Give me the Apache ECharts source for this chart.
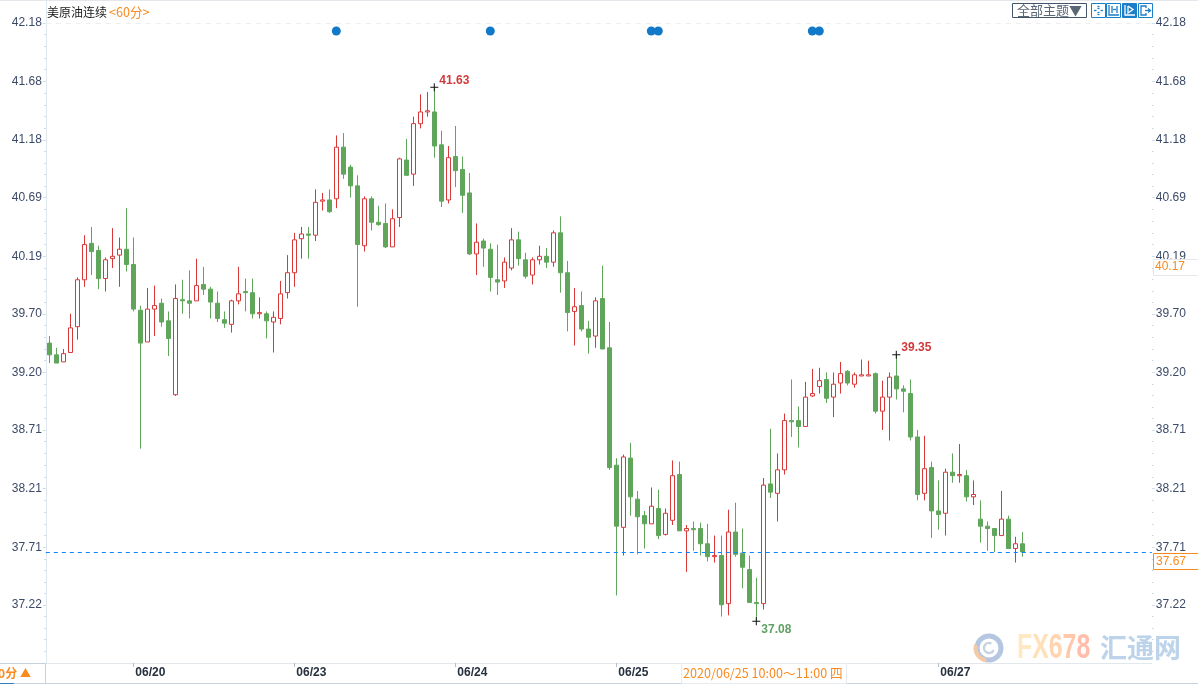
<!DOCTYPE html>
<html>
  <head>
    <meta charset="utf-8" />
    <title>美原油连续 60分</title>
    <script src="https://cdn.jsdelivr.net/npm/echarts/dist/echarts.min.js"></script>
    <style>
      html, body { margin: 0; padding: 0; background: #fff; }
      #main { width: 1198px; height: 684px; }
    </style>
  </head>
  <body>
    <div id="main"></div>
    <script type="text/javascript">
      // 每根K线: [开盘, 收盘, 最低, 最高]
      var candles = [
        [39.45,39.35,39.28,39.51],[39.35,39.28,39.28,39.41],[39.29,39.36,39.29,39.40],[39.37,39.58,39.37,39.70],[39.59,39.99,39.48,40.01],
        [39.99,40.29,39.93,40.37],[40.30,40.23,40.03,40.44],[40.24,40.00,39.91,40.28],[40.00,40.16,39.89,40.18],[40.17,40.19,40.09,40.43],
        [40.20,40.25,39.93,40.35],[40.25,40.12,40.06,40.60],[40.12,39.74,39.72,40.35],[39.73,39.45,38.55,39.77],[39.46,39.74,39.46,39.92],
        [39.74,39.77,39.51,39.94],[39.79,39.63,39.59,39.83],[39.64,39.49,39.34,39.72],[39.01,39.83,39.00,39.95],[39.82,39.81,39.70,39.99],
        [39.81,39.79,39.66,40.07],[39.81,39.94,39.81,40.17],[39.95,39.91,39.86,40.10],[39.91,39.80,39.66,39.93],[39.79,39.66,39.63,39.89],
        [39.65,39.62,39.58,39.72],[39.61,39.81,39.54,39.82],[39.81,39.87,39.78,40.10],[39.89,39.88,39.72,40.00],[39.88,39.70,39.66,40.00],
        [39.70,39.71,39.66,39.84],[39.70,39.64,39.49,39.72],[39.63,39.67,39.37,39.72],[39.66,39.87,39.61,39.98],[39.88,40.05,39.83,40.20],
        [40.05,40.33,39.93,40.39],[40.34,40.38,40.17,40.44],[40.38,40.37,40.17,40.44],[40.37,40.65,40.32,40.76],[40.66,40.67,40.58,40.73],
        [40.67,40.57,40.56,40.76],[40.68,41.12,40.60,41.22],[41.12,40.89,40.85,41.24],[40.95,40.79,40.69,40.97],[40.79,40.29,39.76,40.88],
        [40.28,40.68,40.23,40.70],[40.68,40.48,40.41,40.70],[40.48,40.46,40.45,40.62],[40.47,40.27,40.26,40.64],[40.27,40.51,40.27,40.59],
        [40.52,41.02,40.44,41.03],[41.01,40.88,40.88,41.19],[40.89,41.32,40.79,41.38],[41.32,41.42,41.28,41.57],[41.42,41.43,41.38,41.59],
        [41.42,41.13,41.03,41.63],[41.14,40.66,40.61,41.26],[40.67,41.03,40.64,41.13],[41.04,40.92,40.78,41.30],[40.93,40.71,40.56,41.04],
        [40.73,40.21,40.20,40.90],[40.21,40.31,40.03,40.47],[40.32,40.26,40.10,40.34],[40.25,40.01,39.89,40.30],[39.99,39.97,39.86,40.29],
        [39.98,40.14,39.92,40.18],[40.09,40.33,40.07,40.43],[40.33,40.17,40.11,40.40],[40.16,40.02,40.00,40.22],[40.03,40.16,39.95,40.18],
        [40.16,40.19,40.12,40.28],[40.19,40.14,40.09,40.26],[40.14,40.39,40.10,40.41],[40.39,40.05,39.88,40.53],[40.05,39.71,39.55,40.15],
        [39.72,39.76,39.43,39.92],[39.77,39.57,39.55,39.89],[39.57,39.50,39.36,39.64],[39.51,39.81,39.41,39.84],[39.83,39.40,39.40,40.11],
        [39.41,38.39,38.37,39.63],[38.41,37.89,37.30,38.47],[37.88,38.48,37.64,38.50],[38.47,38.14,37.98,38.60],[38.12,37.97,37.65,38.19],
        [37.98,37.91,37.70,38.02],[37.91,38.06,37.91,38.22],[38.04,37.81,37.78,38.20],[37.82,38.00,37.81,38.04],[37.94,38.32,37.90,38.45],
        [38.33,37.85,37.85,38.44],[37.85,37.87,37.50,37.90],[37.87,37.86,37.68,37.93],[37.87,37.74,37.64,37.92],[37.74,37.63,37.59,37.91],
        [37.63,37.64,37.58,37.81],[37.64,37.22,37.12,37.81],[37.23,37.84,37.13,38.03],[37.84,37.65,37.63,38.09],[37.66,37.54,37.36,37.87],
        [37.52,37.24,37.24,37.64],[37.24,37.23,37.08,37.45],[37.23,38.24,37.18,38.30],[38.25,38.18,38.13,38.72],[38.17,38.37,37.93,38.51],
        [38.37,38.79,38.33,38.85],[38.79,38.78,38.65,39.14],[38.79,38.74,38.56,38.91],[38.74,38.99,38.74,39.12],[39.00,39.02,38.99,39.23],
        [39.08,39.13,39.02,39.24],[39.14,38.98,38.94,39.20],[38.99,39.10,38.82,39.20],[39.11,39.19,39.02,39.29],[39.21,39.11,39.09,39.22],
        [39.10,39.18,39.07,39.20],[39.17,39.18,39.17,39.31],[39.17,39.18,39.17,39.30],[39.19,38.87,38.85,39.20],[38.87,38.99,38.71,39.13],
        [38.99,39.16,38.62,39.20],[39.17,39.06,38.97,39.35],[39.06,39.04,38.86,39.09],[39.02,38.65,38.62,39.14],[38.65,38.16,38.11,38.71],
        [38.17,38.38,38.11,38.66],[38.39,38.02,37.79,38.44],[38.02,37.99,37.86,38.28],[38.00,38.35,37.81,38.38],[38.35,38.32,38.26,38.51],
        [38.32,38.33,38.26,38.59],[38.32,38.14,38.10,38.37],[38.14,38.16,38.07,38.28],[37.95,37.89,37.75,38.11],[37.89,37.87,37.68,37.93],
        [37.87,37.81,37.67,37.87],[37.81,37.95,37.81,38.19],[37.95,37.70,37.70,37.98],[37.70,37.74,37.58,37.80],[37.74,37.67,37.63,37.84]
      ];

      var dateIndexes = [12, 35, 58, 81, 127];
      var dateLabels = ['06/20', '06/23', '06/24', '06/25', '06/27'];
      var yTicks = [42.18, 41.68, 41.18, 40.69, 40.19, 39.70, 39.20, 38.71, 38.21, 37.71, 37.22];
      var eventIndexes = [41, 63, 86, 87, 109, 110];
      var eventLevel = 42.11;
      var lastPrice = 37.67;
      var extremes = [
        { index: 55, value: 41.63 },
        { index: 121, value: 39.35 },
        { index: 101, value: 37.08 }
      ];

      // 右侧留空, 保持每根K线7px
      var slotCount = 158;
      var categories = [];
      for (var i = 0; i < slotCount; i++) {
        var pos = dateIndexes.indexOf(i);
        categories.push(pos >= 0 ? dateLabels[pos] : '');
      }

      var minorTicks = [];
      for (var t = 0; t < yTicks.length; t++) {
        for (var k = 1; k < 5; k++) {
          var next = t + 1 < yTicks.length ? yTicks[t + 1] : yTicks[t] - 0.496;
          minorTicks.push(yTicks[t] + ((next - yTicks[t]) * k) / 5);
        }
      }

      var RED = '#d93838';
      var GREEN = '#5fa65b';
      var ORANGE = '#f98a1e';
      var BLUE = '#1a7ec8';
      var SANS = 'Liberation Sans, Arial, sans-serif';
      var CJK = '"Noto Sans CJK SC", sans-serif';

      function dateOnly(index, value) {
        return value !== '';
      }

      function yAxisBase(position, extra) {
        return Object.assign(
          {
            type: 'value',
            position: position,
            min: 36.724,
            max: 42.374,
            splitLine: { show: false },
            axisLine: { show: false }
          },
          extra
        );
      }

      function labelled(position) {
        return yAxisBase(position, {
          axisTick: { show: true, customValues: yTicks, length: 3, lineStyle: { color: '#cfdbe6' } },
          axisLabel: {
            show: true,
            customValues: yTicks,
            margin: 4,
            color: '#3b4a68',
            fontSize: 12,
            fontFamily: SANS,
            padding: [0, 0, 2, 0],
            formatter: function (v) {
              return v.toFixed(2);
            }
          }
        });
      }

      function minor(position) {
        return yAxisBase(position, {
          axisTick: { show: true, customValues: minorTicks, length: 1.5, lineStyle: { color: '#c4d0dc' } },
          axisLabel: { show: false }
        });
      }

      function textItem(text, x, y, font, fill, align) {
        return {
          type: 'text',
          silent: true,
          z: 20,
          style: { text: text, x: x, y: y, font: font, fill: fill, textAlign: align || 'left', textVerticalAlign: 'middle' }
        };
      }

      function rectItem(x, y, w, h, fill, stroke) {
        return {
          type: 'rect',
          silent: true,
          z: 19,
          shape: { x: x, y: y, width: w, height: h },
          style: { fill: fill || 'none', stroke: stroke || 'none', lineWidth: 1 }
        };
      }

      function toolButton(x, active, strokes) {
        var color = active ? '#ffffff' : BLUE;
        var items = [rectItem(x + 0.5, 3.5, 14, 14, active ? BLUE : '#ffffff', BLUE)];
        strokes.forEach(function (pts) {
          items.push({
            type: 'polyline',
            silent: true,
            z: 21,
            x: x,
            y: 3,
            shape: { points: pts },
            style: { fill: 'none', stroke: color, lineWidth: 1.3 }
          });
        });
        return items;
      }

      var watermarkFont = 'bold 35px ' + SANS;
      var logoCx = 989;
      var logoCy = 648;
      var graphics = [
        // 顶部
        rectItem(0, 0, 1198, 1, '#e3e7ec'),
        textItem('美原油连续', 47, 12, '12px ' + CJK, '#1c1c1c'),
        textItem('<60分>', 109, 12, '12.6px ' + CJK, ORANGE),
        rectItem(1012.5, 3.5, 74, 14, '#ffffff', '#44566c'),
        textItem('全部主题▼', 1049.5, 10.5, '13px ' + CJK, '#5a6876', 'center')
      ]
        .concat(toolButton(1091, false, [[[6.5, 3.5], [8.5, 3.5]], [[6.5, 5.5], [8.5, 5.5]], [[6.5, 9.5], [8.5, 9.5]], [[6.5, 11.5], [8.5, 11.5]], [[3, 7.5], [5.5, 7.5]], [[9.5, 7.5], [12, 7.5]]]))
        .concat(toolButton(1106, false, [[[3, 2], [3, 12], [13, 12]], [[6, 3], [6, 10]], [[11, 3], [11, 10]], [[7, 6.5], [10, 6.5]]]))
        .concat(toolButton(1122, true, [[[3, 2], [3, 12], [13, 12]], [[6, 3], [6, 10], [11, 6.5], [6, 3]]]))
        .concat(toolButton(1138, false, [[[8, 5], [8, 3], [3, 3], [3, 12], [8, 12], [8, 10]], [[7, 7.5], [12, 7.5]], [[10, 5.5], [12.5, 7.5], [10, 9.5]]]))
        .concat([
          // 右侧价格框
          rectItem(1153.5, 259.5, 50, 16, '#ffffff', '#e4e8ec'),
          textItem('40.17', 1155, 267, '12px ' + SANS, ORANGE),
          rectItem(1153.5, 553.5, 50, 16, '#ffffff', ORANGE),
          textItem(lastPrice.toFixed(2), 1156, 561.5, '12px ' + SANS, ORANGE),
          // 底部
          rectItem(0, 683, 1198, 1, '#c9d2da'),
          rectItem(0, 683, 14, 1, '#2f7fc4'),
          rectItem(0, 663, 45, 1, '#c5d2de'),
          rectItem(45, 663, 1, 20, '#c5d2de'),
          textItem('60分', -9, 673.5, 'bold 12px ' + CJK, ORANGE),
          textItem('▲', 20, 673, '11px ' + CJK, ORANGE),
          rectItem(681.5, 663.5, 165, 20, '#ffffff', '#e6ebf0'),
          textItem('2020/06/25 10:00～11:00 四', 683, 673, '12.6px ' + CJK, ORANGE),
          // 水印
          {
            type: 'circle',
            silent: true,
            z: 1,
            shape: { cx: logoCx, cy: logoCy, r: 12 },
            style: { fill: 'none', stroke: '#b4c6e0', lineWidth: 5 }
          },
          {
            type: 'arc',
            silent: true,
            z: 2,
            shape: { cx: logoCx - 1, cy: logoCy, r: 12.5, startAngle: 1.7, endAngle: 3.4 },
            style: { fill: 'none', stroke: '#f6c9a6', lineWidth: 4 }
          },
          {
            type: 'arc',
            silent: true,
            z: 2,
            shape: { cx: logoCx, cy: logoCy, r: 5, startAngle: 0.4, endAngle: 5.2 },
            style: { fill: 'none', stroke: '#c7d3e4', lineWidth: 2.5 }
          },
          {
            type: 'text',
            silent: true,
            z: 2,
            x: 1017,
            y: 648,
            scaleX: 0.71,
            style: {
              text: '{a|F}{b|X}{c|6}{d|7}{e|8}',
              x: 0,
              y: 0,
              textVerticalAlign: 'middle',
              rich: {
                a: { fill: '#ffe8c4', font: watermarkFont },
                b: { fill: '#ffe0b8', font: watermarkFont },
                c: { fill: '#ffd4b0', font: watermarkFont },
                d: { fill: '#ffc8ac', font: watermarkFont },
                e: { fill: '#ffbdaa', font: watermarkFont }
              }
            }
          },
          {
            type: 'text',
            silent: true,
            z: 2,
            style: { text: '汇通网', x: 1100, y: 648, font: 'bold 27px ' + CJK, fill: '#bcd3ea', textVerticalAlign: 'middle' }
          }
        ]);

      var myChart = echarts.init(document.getElementById('main'));

      var option = {
        animation: false,
        backgroundColor: '#ffffff',
        graphic: graphics,
        grid: { left: 45.8, top: 0, width: 1106, height: 663, containLabel: false, outerBoundsMode: 'none' },
        xAxis: {
          type: 'category',
          data: categories,
          boundaryGap: true,
          axisLine: { show: true, lineStyle: { color: '#e2e7ec' } },
          axisTick: { show: true, length: 4, alignWithLabel: true, interval: dateOnly, lineStyle: { color: '#b8bec6' } },
          axisLabel: {
            show: true,
            interval: dateOnly,
            align: 'left',
            margin: 4,
            color: '#26303f',
            fontWeight: 'bold',
            fontSize: 12,
            fontFamily: SANS,
            padding: [0, 0, 0, 2]
          },
          splitLine: { show: false }
        },
        yAxis: [
          Object.assign(labelled('left'), { axisLine: { show: true, onZero: false, lineStyle: { color: '#dfe7ef' } } }),
          labelled('right'),
          minor('left'),
          minor('right')
        ],
        series: [
          {
            type: 'candlestick',
            data: candles,
            barWidth: 5,
            itemStyle: { color: '#ffffff', color0: GREEN, borderColor: RED, borderColor0: GREEN, borderWidth: 1 },
            markLine: {
              silent: true,
              symbol: 'none',
              animation: false,
              label: { show: false },
              lineStyle: { color: '#0a84ff', type: [4, 4], width: 1, opacity: 1 },
              data: [{ yAxis: lastPrice }]
            }
          },
          {
            type: 'scatter',
            data: eventIndexes.map(function (idx) {
              return [idx, eventLevel];
            }),
            symbolSize: 9,
            itemStyle: { color: '#1279c8', opacity: 1 },
            silent: true,
            markLine: {
              silent: true,
              symbol: 'none',
              animation: false,
              label: { show: false },
              lineStyle: { color: '#eeeeee', type: [5, 5], width: 1 },
              data: [{ yAxis: yTicks[0] }]
            }
          },
          {
            type: 'scatter',
            symbol: 'path://M0 3.5H8V4.5H0ZM3.5 0H4.5V8H3.5Z',
            symbolSize: 8,
            itemStyle: { color: '#111111', opacity: 1 },
            silent: true,
            data: extremes.map(function (e, n) {
              return {
                value: [e.index, e.value],
                label: {
                  show: true,
                  position: 'right',
                  distance: 1,
                  offset: n === 2 ? [0, 8] : [0, -7],
                  formatter: e.value.toFixed(2),
                  color: n === 2 ? '#5f9f63' : '#d23a3a',
                  fontWeight: 'bold',
                  fontSize: 12,
                  fontFamily: SANS
                }
              };
            })
          }
        ]
      };

      myChart.setOption(option);
    </script>
  </body>
</html>
